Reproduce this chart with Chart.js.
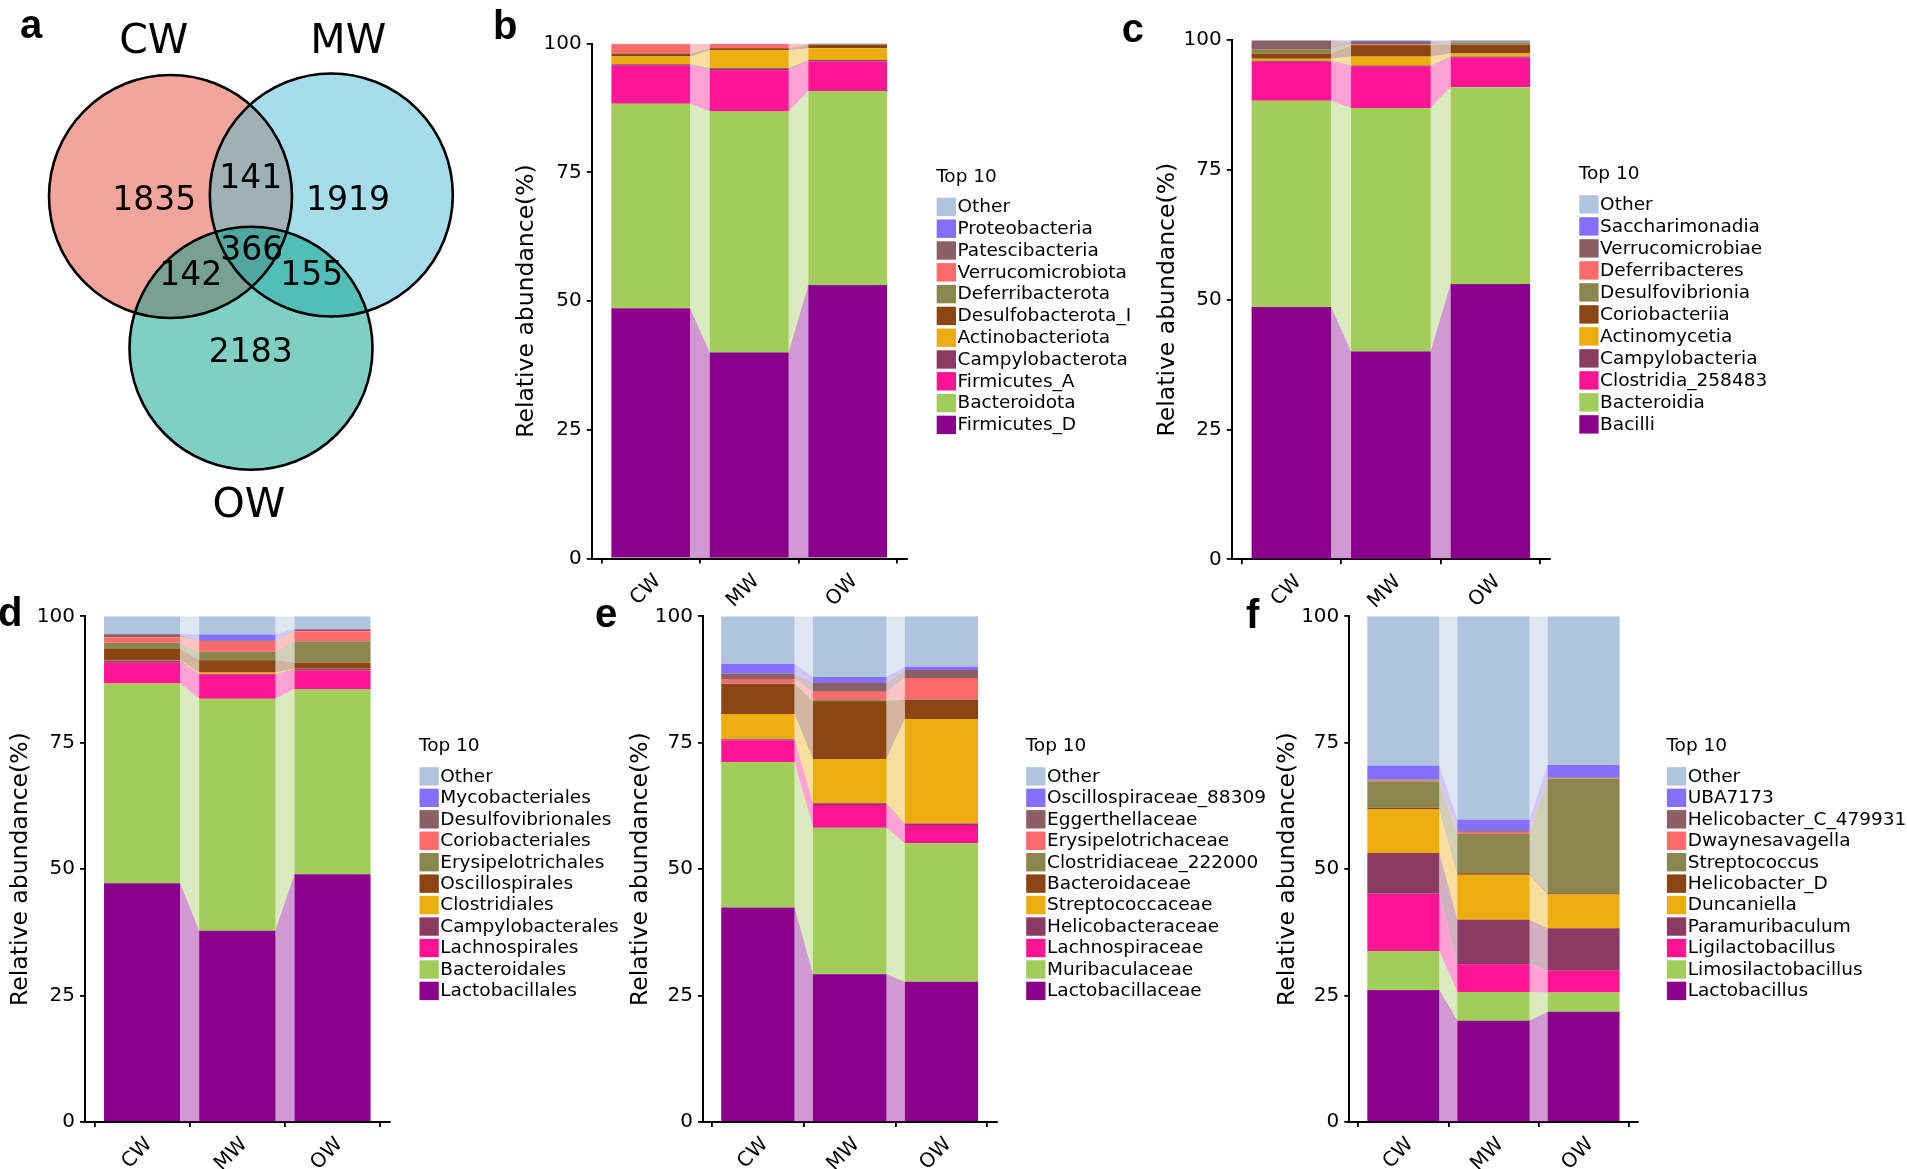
<!DOCTYPE html>
<html>
<head>
<meta charset="utf-8">
<script src="https://cdn.jsdelivr.net/npm/chart.js@4.4.1/dist/chart.umd.min.js"></script>
<style>
  html, body { margin: 0; padding: 0; background: #fff; }
  #wrap { position: relative; width: 1907px; height: 1169px; overflow: hidden; }
  #wrap canvas { position: absolute; left: 0; top: 0; }
</style>
</head>
<body>
<div id="wrap">
  <canvas id="pa" width="1907" height="1169"></canvas>
  <canvas id="pb" width="1907" height="1169"></canvas>
  <canvas id="pc" width="1907" height="1169"></canvas>
  <canvas id="pd" width="1907" height="1169"></canvas>
  <canvas id="pe" width="1907" height="1169"></canvas>
  <canvas id="pf" width="1907" height="1169"></canvas>
</div>
<script>
// groups on the x axis of every bar panel
var groups = ['CW', 'MW', 'OW'];

// a: shared / unique features
var vennSets = ['CW', 'MW', 'OW'];
var vennRegions = ['CW', 'MW', 'OW', 'CW&MW', 'CW&OW', 'MW&OW', 'CW&MW&OW'];
var vennCounts = [1835, 1919, 2183, 141, 142, 155, 366];

// b: phylum (bottom of stack first, Other last)
var phylumNames = ['Firmicutes_D', 'Bacteroidota', 'Firmicutes_A', 'Campylobacterota', 'Actinobacteriota',
  'Desulfobacterota_I', 'Deferribacterota', 'Verrucomicrobiota', 'Patescibacteria', 'Proteobacteria', 'Other'];
var phylumCW = [48.6, 39.7, 7.4, 0.3, 1.5, 0.6, 0.05, 1.7, 0.05, 0.05, 0.05];
var phylumMW = [40.0, 46.8, 8.0, 0.4, 3.5, 0.4, 0.05, 0.7, 0.05, 0.05, 0.05];
var phylumOW = [53.1, 37.7, 5.7, 0.3, 2.3, 0.7, 0.05, 0.05, 0.05, 0.05, 0.05];

// c: class
var classNames = ['Bacilli', 'Bacteroidia', 'Clostridia_258483', 'Campylobacteria', 'Actinomycetia',
  'Coriobacteriia', 'Desulfovibrionia', 'Deferribacteres', 'Verrucomicrobiae', 'Saccharimonadia', 'Other'];
var classCW = [48.6, 39.7, 7.5, 0.2, 0.4, 1.0, 0.8, 0.05, 1.6, 0.05, 0.1];
var classMW = [40.0, 46.9, 8.0, 0.2, 1.7, 2.2, 0.1, 0.1, 0.4, 0.2, 0.2];
var classOW = [53.0, 37.9, 5.7, 0.2, 0.6, 1.7, 0.4, 0.05, 0.15, 0.1, 0.2];

// d: order
var orderNames = ['Lactobacillales', 'Bacteroidales', 'Lachnospirales', 'Campylobacterales', 'Clostridiales',
  'Oscillospirales', 'Erysipelotrichales', 'Coriobacteriales', 'Desulfovibrionales', 'Mycobacteriales', 'Other'];
var orderCW = [47.2, 39.5, 4.1, 0.4, 0.05, 2.3, 1.2, 1.1, 0.6, 0.1, 3.45];
var orderMW = [37.8, 45.9, 4.8, 0.1, 0.3, 2.4, 1.7, 2.1, 0.1, 1.2, 3.6];
var orderOW = [49.0, 36.6, 3.7, 0.3, 0.05, 1.2, 4.2, 2.0, 0.4, 0.05, 2.5];

// e: family
var familyNames = ['Lactobacillaceae', 'Muribaculaceae', 'Lachnospiraceae', 'Helicobacteraceae', 'Streptococcaceae',
  'Bacteroidaceae', 'Clostridiaceae_222000', 'Erysipelotrichaceae', 'Eggerthellaceae', 'Oscillospiraceae_88309', 'Other'];
var familyCW = [42.4, 28.8, 4.3, 0.2, 5.0, 5.9, 0.1, 0.9, 1.1, 1.9, 9.4];
var familyMW = [29.2, 29.0, 4.5, 0.3, 8.8, 11.4, 0.3, 1.6, 1.7, 1.2, 12.0];
var familyOW = [27.7, 27.4, 3.6, 0.3, 20.7, 3.8, 0.1, 4.2, 1.6, 0.6, 10.0];

// f: genus
var genusNames = ['Lactobacillus', 'Limosilactobacillus', 'Ligilactobacillus', 'Paramuribaculum', 'Duncaniella',
  'Helicobacter_D', 'Streptococcus', 'Dwaynesavagella', 'Helicobacter_C_479931', 'UBA7173', 'Other'];
var genusCW = [26.1, 7.7, 11.3, 8.1, 8.6, 0.4, 5.2, 0.1, 0.2, 2.8, 29.5];
var genusMW = [20.0, 5.7, 5.5, 8.8, 8.9, 0.3, 7.8, 0.4, 0.15, 2.2, 40.25];
var genusOW = [21.8, 3.8, 4.3, 8.4, 6.7, 0.2, 22.7, 0.1, 0.1, 2.5, 29.4];

// styles
var W = 1907, H = 1169;
var FONT = "'DejaVu Sans', sans-serif";
var LETTER_FONT = "bold 40px 'Liberation Sans', Arial, sans-serif";
var TICK_SIZE = 20;
var palette = ['#8B008B', '#A2CD5A', '#FF1493', '#8B3A62', '#EEAD0E', '#8B4513',
  '#8B864E', '#FF6A6A', '#8B5F65', '#8470FF', '#B0C4DE'];
var vennColours = ['#E64B35', '#4DBBD5', '#00A087'];

// page positions of each bar panel (plot box, y title, legend, letter)
var panels = {
  b: {axL: 591.7, axR: 906.7, axT: 43.6, axB: 558.5, titleX: 526.7, letter: [493, 39], legX: 936.7, legY: 206.9, legStep: 21.8},
  c: {axL: 1231.7, axR: 1550, axT: 40, axB: 559.3, titleX: 1168.3, letter: [1121.7, 42], legX: 1579.3, legY: 204.4, legStep: 22},
  d: {axL: 85, axR: 389.6, axT: 616.3, axB: 1121.9, titleX: 20.7, letter: [-2, 626], legX: 419.5, legY: 776.4, legStep: 21.45},
  e: {axL: 702.9, axR: 996.4, axT: 616.3, axB: 1121.9, titleX: 640.7, letter: [595, 627], legX: 1026.2, legY: 776.4, legStep: 21.45},
  f: {axL: 1349.3, axR: 1637.6, axT: 616.3, axB: 1121.9, titleX: 1287.7, letter: [1246, 628], legX: 1666.9, legY: 776.4, legStep: 21.45}
};

// venn layout (page px)
var vennCircles = [[170.5, 196.5], [331.3, 195], [251, 348.3]];
var vennRadius = 121.5;
var vennSetPos = [[153.8, 53.3], [348.3, 53.3], [249, 517]];
var vennRegionPos = [[154.3, 210], [348, 210], [250.8, 361.7], [250.8, 188.3], [190.8, 285], [311.7, 285], [251.7, 260]];

// helper to turn a hex colour into rgba
var rgba = function (hex, a) {
  var n = parseInt(hex.slice(1), 16);
  return 'rgba(' + (n >> 16 & 255) + ', ' + (n >> 8 & 255) + ', ' + (n & 255) + ', ' + a + ')';
};

var cum = function (row, n) {
  var s = 0;
  for (var i = 0; i < n; i++) s += row[i];
  return s;
};

var letterPlugin = function (text, pos) {
  return {
    id: 'letter',
    afterDraw: function (chart) {
      var c = chart.ctx;
      c.save();
      c.font = LETTER_FONT;
      c.fillStyle = '#000';
      c.textAlign = 'left';
      c.textBaseline = 'alphabetic';
      c.fillText(text, pos[0], pos[1]);
      c.restore();
    }
  };
};

var legendPlugin = function (names, lay) {
  return {
    id: 'top10',
    afterDraw: function (chart) {
      var c = chart.ctx;
      c.save();
      c.font = '18.5px ' + FONT;
      c.textAlign = 'left';
      c.textBaseline = 'middle';
      c.fillStyle = '#000';
      c.fillText('Top 10', lay.legX - 0.5, lay.legY - 30);
      for (var i = 0; i < names.length; i++) {
        var k = names.length - 1 - i;
        var cy = lay.legY + i * lay.legStep;
        c.fillStyle = palette[k];
        c.fillRect(lay.legX, cy - 9.2, 19.3, 18.4);
        c.fillStyle = '#000';
        c.fillText(names[k], lay.legX + 20.8, cy + 0.5);
      }
      c.restore();
    }
  };
};

// ---- panel a: venn drawn as bubbles on a pixel-for-unit scale
var vennPoints = vennCircles.map(function (p) { return {x: p[0], y: p[1], r: vennRadius}; });
new Chart(document.getElementById('pa'), {
  type: 'bubble',
  data: {
    datasets: [
      {data: vennPoints, backgroundColor: 'rgba(0,0,0,0)', borderColor: '#000', borderWidth: 2.6, order: 0, clip: false},
      {data: vennPoints, backgroundColor: vennColours.map(function (c) { return rgba(c, 0.5); }),
        borderColor: 'rgba(0,0,0,0)', borderWidth: 0, order: 1, clip: false}
    ]
  },
  options: {
    responsive: false, animation: false, events: [],
    layout: {padding: 0, autoPadding: false},
    scales: {
      x: {type: 'linear', display: false, min: 0, max: W},
      y: {type: 'linear', display: false, min: 0, max: H, reverse: true}
    },
    plugins: {legend: {display: false}, tooltip: {enabled: false}}
  },
  plugins: [letterPlugin('a', [20, 38.3]), {
    id: 'vennText',
    afterDraw: function (chart) {
      var c = chart.ctx, xs = chart.scales.x, ys = chart.scales.y;
      c.save();
      c.fillStyle = '#000';
      c.textAlign = 'center';
      c.textBaseline = 'alphabetic';
      c.font = '41px ' + FONT;
      vennSets.forEach(function (s, i) {
        c.fillText(s, xs.getPixelForValue(vennSetPos[i][0]), ys.getPixelForValue(vennSetPos[i][1]));
      });
      c.font = '33px ' + FONT;
      vennCounts.forEach(function (n, i) {
        c.fillText(String(n), xs.getPixelForValue(vennRegionPos[i][0]), ys.getPixelForValue(vennRegionPos[i][1]));
      });
      c.restore();
    }
  }]
});

// ---- panels b-f: stacked composition bars with translucent flows between them
var drawComposition = function (canvasId, letter, names, rows) {
  var lay = panels[letter];
  var datasets = [];
  // x axis box must hold the rotated labels, they are clipped to it
  var xAxisH = Math.min(70, H - lay.axB);

  names.forEach(function (name, k) {
    datasets.push({
      type: 'bar', label: name, order: 0,
      backgroundColor: palette[k], borderWidth: 0,
      grouped: false, barPercentage: 0.8, categoryPercentage: 1,
      data: rows.map(function (row, g) {
        var lo = cum(row, k);
        return {x: g, y: [lo, lo + row[k]]};
      })
    });
  });

  // flows: one filled line per layer, filled down to the layer below
  names.forEach(function (name, k) {
    var pts = [];
    for (var g = 0; g + 1 < rows.length; g++) {
      pts.push({x: g + 0.4, y: cum(rows[g], k + 1)});
      pts.push({x: g + 0.6, y: cum(rows[g + 1], k + 1)});
    }
    datasets.push({
      type: 'line', order: 1, data: pts,
      fill: k === 0 ? 'origin' : '-1',
      backgroundColor: rgba(palette[k], 0.4),
      borderColor: 'rgba(0,0,0,0)', borderWidth: 0,
      pointRadius: 0, tension: 0
    });
  });

  var titleOffset = 4 + 23.5 * 1.2 / 2;
  new Chart(document.getElementById(canvasId), {
    type: 'bar',
    data: {datasets: datasets},
    options: {
      responsive: false, animation: false, events: [],
      layout: {padding: {left: lay.titleX - titleOffset, right: W - lay.axR, top: lay.axT, bottom: H - lay.axB - xAxisH}},
      scales: {
        x: {
          type: 'linear', min: -0.6, max: 2.6, offset: false,
          grid: {drawOnChartArea: false, drawTicks: true, tickLength: 5, color: '#000', lineWidth: 1.8},
          border: {display: true, color: '#000', width: 2},
          ticks: {
            stepSize: 1, includeBounds: false, autoSkip: false, minRotation: 45, maxRotation: 45,
            color: '#000', font: {family: FONT, size: TICK_SIZE}, padding: 6, labelOffset: 7,
            callback: function (v) { return groups[v] !== undefined ? groups[v] : ''; }
          },
          afterFit: function (s) { s.height = xAxisH; }
        },
        y: {
          min: 0, max: 100,
          grid: {drawOnChartArea: false, drawTicks: true, tickLength: 5, color: '#000', lineWidth: 1.8},
          border: {display: true, color: '#000', width: 2},
          ticks: {stepSize: 25, color: '#000', font: {family: FONT, size: TICK_SIZE}, padding: 5},
          title: {display: true, text: 'Relative abundance(%)', color: '#000',
            font: {family: FONT, size: 23.5}, padding: {top: 4, bottom: 4}},
          afterFit: function (s) { s.width = lay.axL - (lay.titleX - titleOffset); }
        }
      },
      plugins: {legend: {display: false}, tooltip: {enabled: false}}
    },
    plugins: [letterPlugin(letter, lay.letter), legendPlugin(names, lay)]
  });
};

drawComposition('pb', 'b', phylumNames, [phylumCW, phylumMW, phylumOW]);
drawComposition('pc', 'c', classNames, [classCW, classMW, classOW]);
drawComposition('pd', 'd', orderNames, [orderCW, orderMW, orderOW]);
drawComposition('pe', 'e', familyNames, [familyCW, familyMW, familyOW]);
drawComposition('pf', 'f', genusNames, [genusCW, genusMW, genusOW]);
</script>
</body>
</html>
